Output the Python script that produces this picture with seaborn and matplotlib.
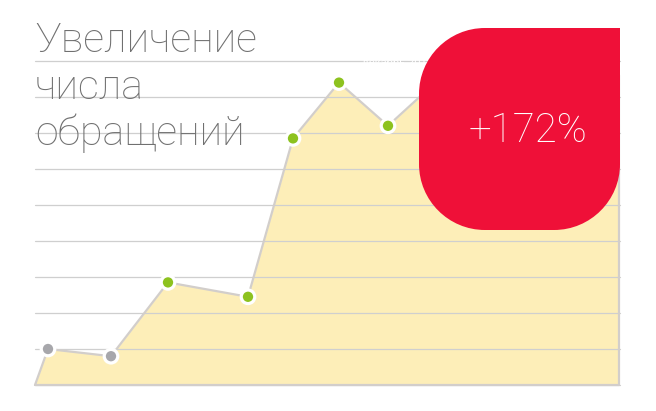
import os

os.environ.setdefault("MPLBACKEND", "Agg")

import matplotlib.pyplot as plt
import pandas as pd
import seaborn as sns
from matplotlib.patches import PathPatch
from matplotlib.path import Path

# horizontal position (arbitrary time units) and level (in grid steps)
day = [0, 13, 76, 133, 213, 258, 304, 353, 420, 470, 520, 584]
level = [0.0, 1.0, 0.8, 2.85, 2.45, 6.85, 8.4, 7.2, 8.9, 8.3, 8.7, 8.6]
is_marked = [False, True, True, True, True, True, True, True, True, True, True, False]
is_early = [False, True, True, False, False, False, False, False, False, False, False, False]
grid_levels = list(range(10))

title_lines = ["Увеличение", "числа", "обращений"]
badge_text = "+172%"
hidden_label = "декабрь 2018"

AREA = "#FDEEB8"
LINE = "#D2CECB"
GRID = "#CFCFCF"
GREEN = "#8DC21F"
GREY = "#A7A7AB"
RED = "#EF1038"
TITLE = "#707070"

sns.set_theme(style="white")
plt.rcParams["font.family"] = ["Roboto", "DejaVu Sans"]

data = pd.DataFrame({"day": day, "level": level, "marked": is_marked, "early": is_early})
data["group"] = data["early"].map({True: "early", False: "late"})

fig = plt.figure(figsize=(6.56, 4.11), dpi=100)
ax = fig.add_axes([0, 0, 1, 1])
ax.set_xlim(-35, 621)
ax.set_ylim((385 - 411) / 36, 385 / 36)
ax.axis("off")

ax.fill_between(data["day"], data["level"], 0, color=AREA, lw=0, zorder=1)
for g in grid_levels:
    ax.plot([0, 585], [g, g], color=GRID, lw=0.9, zorder=2)
outline = pd.concat([data[["day", "level"]],
                     pd.DataFrame({"day": [day[-1], day[0]], "level": [0.0, 0.0]})])
ax.plot(outline["day"], outline["level"], color=LINE, lw=1.6, zorder=3,
        solid_joinstyle="round")
sns.scatterplot(data=data[data["marked"]], x="day", y="level", hue="group",
                palette={"early": GREY, "late": GREEN}, s=95, linewidth=2.3,
                edgecolor="white", legend=False, zorder=4, ax=ax)
ax.set_xlabel("")
ax.set_ylabel("")

ov = fig.add_axes([0, 0, 1, 1])
ov.set_xlim(0, 656)
ov.set_ylim(411, 0)
ov.axis("off")
ov.patch.set_alpha(0)

for i, line in enumerate(title_lines):
    ov.text(35, 52 + i * 46.5, line, fontsize=29.6, fontweight="light",
            color=TITLE, va="baseline", ha="left", zorder=5)

ov.text(433, 66, hidden_label, fontsize=8, color="white", ha="right",
        va="baseline", zorder=5)

# badge with three rounded corners (top-right square)
x0, x1, y0, y1, r = 419, 620, 28, 230, 66
k = 0.5523 * r
verts = [
    (x0 + r, y0), (x1, y0), (x1, y1 - r),
    (x1, y1 - r + k), (x1 - r + k, y1), (x1 - r, y1),
    (x0 + r, y1),
    (x0 + r - k, y1), (x0, y1 - r + k), (x0, y1 - r),
    (x0, y0 + r),
    (x0, y0 + r - k), (x0 + r - k, y0), (x0 + r, y0),
    (x0 + r, y0),
]
codes = [Path.MOVETO, Path.LINETO, Path.LINETO,
         Path.CURVE4, Path.CURVE4, Path.CURVE4,
         Path.LINETO,
         Path.CURVE4, Path.CURVE4, Path.CURVE4,
         Path.LINETO,
         Path.CURVE4, Path.CURVE4, Path.CURVE4,
         Path.CLOSEPOLY]
ov.add_patch(PathPatch(Path(verts, codes), facecolor=RED, edgecolor="none", zorder=6))
ov.text(528, 131, badge_text, fontsize=29, fontweight="light", color="white",
        ha="center", va="center", zorder=7)

fig.savefig("out.png", dpi=100)
